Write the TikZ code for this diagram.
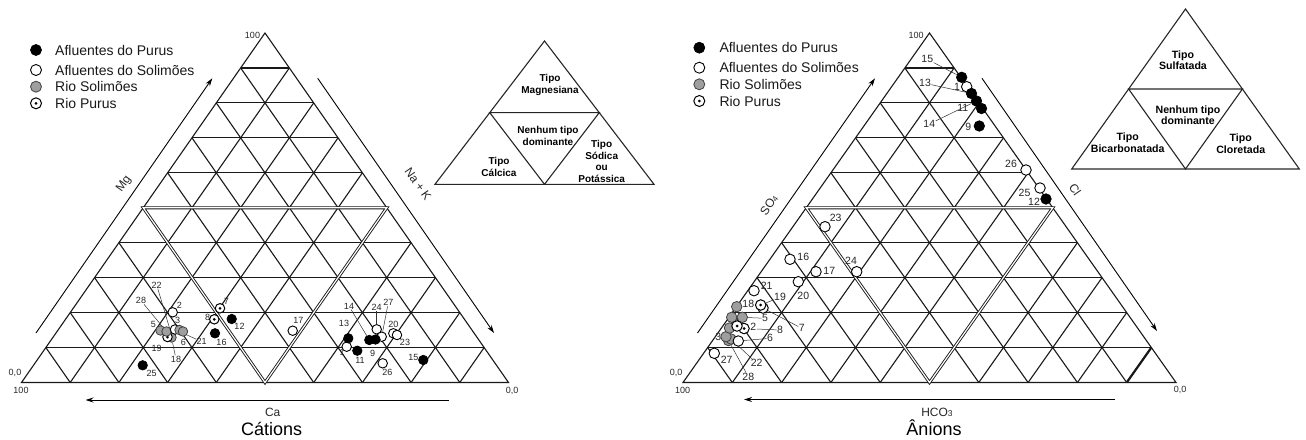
\documentclass[tikz,border=0pt]{standalone}
\usepackage{fontspec}
\setmainfont{Liberation Sans}
\usetikzlibrary{calc,arrows.meta}
\pgfdeclarelayer{bg}
\pgfsetlayers{bg,main}
\tikzset{
  gridline/.style={line width=1.1pt, draw=black!90},
  dbl/.style={draw=black!90, line width=0.9pt, double=white, double distance=1.2pt},
  thickseg/.style={line width=2.2pt, draw=black!90},
  fpt/.style={circle, inner sep=0pt, minimum size=#1, fill=black, draw=black, line width=0.7pt},
  fpt/.default=9.5pt,
  opt/.style={circle, inner sep=0pt, minimum size=#1, fill=white, draw=black, line width=0.9pt},
  opt/.default=9.5pt,
  gpt/.style={circle, inner sep=0pt, minimum size=#1, fill=black!38, draw=black!75, line width=0.8pt},
  gpt/.default=9.5pt,
  rpt/.style={circle, inner sep=0pt, minimum size=#1, fill=white, draw=black, line width=1pt,
    path picture={\fill[black] (path picture bounding box.center) circle[radius=1.5pt];}},
  rpt/.default=9.5pt,
  nl/.style={font=\fontsize{9}{10}\selectfont, inner sep=0.3pt, text=black!85},
  nr/.style={font=\fontsize{10.5}{11}\selectfont, inner sep=0.3pt, text=black!85},
  ld/.style={line width=0.5pt, draw=black!80},
  lg/.style={font=\fontsize{14}{16}\selectfont, anchor=west, inner sep=0pt, text=black!90},
  ax/.style={font=\fontsize{12}{13}\selectfont, inner sep=0pt, text=black!85},
  corner/.style={font=\fontsize{9}{10}\selectfont, inner sep=0pt, text=black!85},
  ttl/.style={font=\fontsize{18}{20}\selectfont, inner sep=0pt, anchor=base},
  tipoL/.style={font=\bfseries\fontsize{10}{12}\selectfont, align=center, inner sep=0pt},
  tipoR/.style={font=\bfseries\fontsize{10.6}{11.4}\selectfont, align=center, inner sep=0pt},
  arr/.style={line width=0.9pt, draw=black, -{Stealth[length=8pt,width=5pt]}},
  tri/.style={line width=1.1pt, draw=black!85}
}
\begin{document}
\begin{tikzpicture}[x=1pt,y=-1pt]
\useasboundingbox (0,0) rectangle (1306,439);

% main triangles
\coordinate (L-A) at (21.5,382.5);
\coordinate (L-B) at (508.5,382.5);
\coordinate (L-C) at (265,33);
\coordinate (R-A) at (683,382.5);
\coordinate (R-B) at (1176,382.5);
\coordinate (R-C) at (929.5,33);

\begin{pgfonlayer}{bg}
\foreach \T in {L,R}{
  \foreach \i in {1,...,9}{
    \pgfmathsetmacro\f{\i/10}
    \draw[gridline] ($(\T-A)!\f!(\T-C)$) -- ($(\T-B)!\f!(\T-C)$);
    \draw[gridline] ($(\T-A)!\f!(\T-B)$) -- ($(\T-C)!\f!(\T-B)$);
    \draw[gridline] ($(\T-A)!\f!(\T-B)$) -- ($(\T-A)!\f!(\T-C)$);
  }
  \draw[gridline] (\T-A) -- (\T-B) -- (\T-C) -- cycle;
  \draw[dbl] ($(\T-A)!0.5!(\T-C)$) -- ($(\T-B)!0.5!(\T-C)$) -- ($(\T-A)!0.5!(\T-B)$) -- cycle;
}
\draw[thickseg] ($(R-A)!0.9!(R-B)$) -- ($(R-C)!0.9!(R-B)$);
\end{pgfonlayer}

% small classification triangles
\coordinate (sL-A) at (435,184.3);
\coordinate (sL-B) at (654,184.3);
\coordinate (sL-C) at (544.5,41);
\coordinate (sR-A) at (1071.7,169);
\coordinate (sR-B) at (1299.3,169);
\coordinate (sR-C) at (1185.5,9);
\foreach \T in {sL,sR}{
  \draw[tri] (\T-A) -- (\T-B) -- (\T-C) -- cycle;
  \draw[tri] ($(\T-A)!0.5!(\T-C)$) -- ($(\T-B)!0.5!(\T-C)$) -- ($(\T-A)!0.5!(\T-B)$) -- cycle;
}
\node[tipoL] (tMg) at (550,84.5) {Tipo\\Magnesiana};
\node[tipoL] (tNL) at (548,135.5) {Nenhum tipo\\dominante};
\node[tipoL] (tCa) at (499,167.2) {Tipo\\Cálcica};
\node[tipoL,font=\bfseries\fontsize{10}{11.6}\selectfont] (tNa) at (601.7,161.5) {Tipo\\Sódica\\ou\\Potássica};
\node[tipoR] (tSu) at (1183,60) {Tipo\\Sulfatada};
\node[tipoR] (tNR) at (1188,115.5) {Nenhum tipo\\dominante};
\node[tipoR] (tBi) at (1127.7,142.8) {Tipo\\Bicarbonatada};
\node[tipoR] (tCl) at (1240.7,143.8) {Tipo\\Cloretada};

% legends
\node[fpt=11pt] (lgL1) at (36,50) {};
\node[opt=11pt] (lgL2) at (36,70) {};
\node[gpt=11pt] (lgL3) at (36,86.7) {};
\node[rpt=11pt] (lgL4) at (36,103.3) {};
\node[lg] (lgL1t) at (55,50) {Afluentes do Purus};
\node[lg] (lgL2t) at (55,70) {Afluentes do Solimões};
\node[lg] (lgL3t) at (55,86.7) {Rio Solimões};
\node[lg] (lgL4t) at (55,103.3) {Rio Purus};
\node[fpt=11pt] (lgR1) at (699.3,47.7) {};
\node[opt=11pt] (lgR2) at (699.3,67.7) {};
\node[gpt=11pt] (lgR3) at (699.3,84.3) {};
\node[rpt=11pt] (lgR4) at (699.3,101) {};
\node[lg] (lgR1t) at (719.3,47.7) {Afluentes do Purus};
\node[lg] (lgR2t) at (719.3,67.7) {Afluentes do Solimões};
\node[lg] (lgR3t) at (719.3,84.3) {Rio Solimões};
\node[lg] (lgR4t) at (719.3,101) {Rio Purus};

% corner labels
\node[corner] (cL1) at (252.5,35.5) {100};
\node[corner] (cL2) at (15,372.7) {0,0};
\node[corner] (cL3) at (21,390.5) {100};
\node[corner] (cL4) at (512,390.5) {0,0};
\node[corner] (cR1) at (916,35.5) {100};
\node[corner] (cR2) at (676,372.7) {0,0};
\node[corner] (cR3) at (682.5,390.5) {100};
\node[corner] (cR4) at (1180,390) {0,0};

% axis arrows
\coordinate (aL1s) at (36,333);   \coordinate (aL1e) at (212.3,78.3);
\coordinate (aL2s) at (317.7,78.3); \coordinate (aL2e) at (494,333);
\coordinate (aL3s) at (449,400);  \coordinate (aL3e) at (85.5,400);
\coordinate (aR1s) at (697.5,333); \coordinate (aR1e) at (875,78.3);
\coordinate (aR2s) at (982,78.3); \coordinate (aR2e) at (1157,331);
\coordinate (aR3s) at (1115,399.5); \coordinate (aR3e) at (744,399.5);
\draw[arr] (aL1s) -- (aL1e);
\draw[arr] (aL2s) -- (aL2e);
\draw[arr] (aL3s) -- (aL3e);
\draw[arr] (aR1s) -- (aR1e);
\draw[arr] (aR2s) -- (aR2e);
\draw[arr] (aR3s) -- (aR3e);

\node[ax,rotate=55] (xMg) at (124,184) {Mg};
\node[ax,rotate=-55] (xNa) at (418,184) {Na + K};
\node[ax,anchor=base] (xCa) at (272.7,416) {Ca};
\node[ttl] (xCat) at (271.7,435) {Cátions};
\node[ax,rotate=55] (xSO) at (769,205) {SO{\fontsize{8}{8}\selectfont 4}};
\node[ax,rotate=-55] (xCl) at (1075,190) {Cl};
\node[ax,anchor=base] (xHC) at (937,416) {HCO{\fontsize{8.5}{8}\selectfont 3}};
\node[ttl] (xAn) at (934,435) {Ânions};

% ---------- Cátions data ----------
\node[nl] (la22) at (156.7,285) {22};
\node[nl] (la28) at (141,300.7) {28};
\node[nl] (la2) at (179.5,305.5) {2};
\node[nl] (la7) at (226.5,301.5) {7};
\node[nl] (la8) at (207.5,317.5) {8};
\node[nl] (la12) at (239.5,326) {12};
\node[nl] (la16) at (221.5,342.5) {16};
\node[nl] (la25) at (151.7,373.3) {25};
\node[nl] (la5) at (153.3,324.3) {5};
\node[nl] (la3) at (177.7,320.7) {3};
\node[nl] (la19) at (156.7,348.3) {19};
\node[nl] (la6) at (183.3,342.7) {6};
\node[nl] (la21) at (201.7,341.7) {21};
\node[nl] (la18) at (176,359) {18};
\node[nl] (la17) at (298.3,320.7) {17};
\node[nl] (la13) at (344,323.3) {13};
\node[nl] (la1) at (342,352.5) {1};
\node[nl] (la11) at (360,360.7) {11};
\node[nl] (la14) at (349,306) {14};
\node[nl] (la9) at (372.7,353.3) {9};
\node[nl] (la24) at (376.7,307.3) {24};
\node[nl] (la27) at (388.3,302.7) {27};
\node[nl] (la20) at (393.3,324) {20};
\node[nl] (la23) at (405,342.7) {23};
\node[nl] (la26) at (387.3,372.7) {26};
\node[nl] (la15) at (413.3,357.3) {15};

\node[opt] (a2) at (172.7,312.3) {};
\node[rpt] (a7) at (220,308.3) {};
\node[rpt] (a8) at (214.3,319.3) {};
\node[fpt] (a12) at (231.7,319) {};
\node[fpt] (a16) at (215,333.3) {};
\node[fpt] (a25) at (142.7,365.3) {};
\node[gpt] (a22) at (171,333) {};
\node[gpt] (a18) at (171.5,337.5) {};
\node[rpt] (a19) at (167.5,337) {};
\node[gpt] (a5) at (160.5,330.5) {};
\node[gpt] (a28) at (166.5,331.5) {};
\node[opt] (a21) at (175,329.5) {};
\node[gpt] (a3) at (179.5,330) {};
\node[gpt] (a6) at (183,331.5) {};
\node[opt] (a17) at (292.7,330.7) {};
\node[opt] (a1) at (346.7,346.7) {};
\node[fpt] (a13) at (348.3,338.3) {};
\node[fpt] (a11) at (357.3,350.7) {};
\node[opt] (a24) at (376.7,329.3) {};
\node[opt] (a27) at (381.7,336.7) {};
\node[fpt] (a14) at (369.3,340) {};
\node[fpt] (a9) at (375.5,339.5) {};
\node[opt] (a20) at (393.3,333.3) {};
\node[opt] (a23) at (397,335) {};
\node[opt] (a26) at (382.7,363.3) {};
\node[fpt] (a15) at (423.3,360) {};

% ---------- Ânions data ----------
\node[nr] (lb15) at (927.3,59.3) {15};
\node[nr] (lb10) at (957,86.7) {1};
\node[nr] (lb13) at (925,83.3) {13};
\node[nr] (lb11) at (962.7,108.3) {11};
\node[nr] (lb14) at (929.3,124) {14};
\node[nr] (lb9) at (968.3,127.3) {9};
\node[nr] (lb26) at (1011,164) {26};
\node[nr] (lb25) at (1024.5,193) {25};
\node[nr] (lb12) at (1034,202) {12};
\node[nr] (lb23) at (835.7,218.3) {23};
\node[nr] (lb16) at (803.3,257.3) {16};
\node[nr] (lb17) at (829.3,270.7) {17};
\node[nr] (lb24) at (851,260.7) {24};
\node[nr] (lb20) at (803.3,295.7) {20};
\node[nr] (lb21) at (766.7,286) {21};
\node[nr] (lb19) at (780,297.3) {19};
\node[nr] (lb18) at (748.3,304.3) {18};
\node[nr] (lb5) at (765,318.3) {5};
\node[nr] (lb7) at (801.7,328.3) {7};
\node[nr,fill=white] (lb2) at (753.3,327.3) {2};
\node[nr] (lb8) at (780,330) {8};
\node[nr] (lb3) at (718.3,336.7) {3};
\node[nr] (lb6) at (770,338.3) {6};
\node[nr] (lb27) at (726.7,360) {27};
\node[nr] (lb22) at (756.7,363.3) {22};
\node[nr] (lb28) at (748.3,376.7) {28};

\node[fpt=10.5pt] (b15) at (961.7,77.3) {};
\node[opt=10.5pt] (b10) at (966.7,86.7) {};
\node[fpt=10.5pt] (b13) at (971.5,93.5) {};
\node[fpt=10.5pt] (b14) at (976.5,101) {};
\node[fpt=10.5pt] (b11) at (981.5,108.5) {};
\node[fpt=10.5pt] (b9) at (979.3,126) {};
\node[opt=10.5pt] (b26) at (1026,170) {};
\node[opt=10.5pt] (b25) at (1040,188) {};
\node[fpt=10.5pt] (b12) at (1046,199) {};
\node[opt=10.5pt] (b23) at (825,226.7) {};
\node[opt=10.5pt] (b16) at (790,259.3) {};
\node[opt=10.5pt] (b17) at (816,271.7) {};
\node[opt=10.5pt] (b24) at (856.7,271.7) {};
\node[opt=10.5pt] (b20) at (798.3,281.7) {};
\node[opt=10.5pt] (b21) at (754,290.7) {};
\node[rpt=10.5pt] (b7) at (763,308) {};
\node[rpt=10.5pt] (b19) at (760.7,305) {};
\node[gpt=10.5pt] (b18) at (736.7,306.7) {};
\node[gpt=10.5pt] (b28) at (728.5,340.5) {};
\node[gpt=10.5pt] (b22) at (731,339) {};
\node[gpt=10.5pt] (b3) at (726,336.7) {};
\node[gpt=10.5pt] (bgx) at (729.5,328) {};
\node[gpt=10.5pt] (b5x) at (731.7,317.3) {};
\node[gpt=10.5pt] (b5) at (742.3,317.3) {};
\node[opt=10.5pt] (b6) at (738.3,341) {};
\node[rpt=10.5pt] (b8) at (744,328.5) {};
\node[rpt=10.5pt] (b2) at (737,326) {};
\node[opt=10.5pt] (b27) at (714.3,353.3) {};

% leader lines
\begin{pgfonlayer}{bg}
\draw[ld] (la22) -- (a22);
\draw[ld] (la28) -- (a28);
\draw[ld] (la21) -- (a21);
\draw[ld] (la18) -- (a18);
\draw[ld] (la14) -- (a14);
\draw[ld] (la24) -- (a24);
\draw[ld] (la27) -- (a27);
\draw[ld] (lb15) -- (b15);
\draw[ld] (lb13) -- (b13);
\draw[ld] (lb14) -- (b14);
\draw[ld] (lb19) -- (b19);
\draw[ld] (lb7) -- (b7);
\draw[ld] (lb5) -- (b5);
\draw[ld] (lb8) -- (b8);
\draw[ld] (lb6) -- (b6);
\draw[ld] (lb22) -- (b22);
\draw[ld] (lb28) -- (b28);
\end{pgfonlayer}
\end{tikzpicture}
\end{document}
